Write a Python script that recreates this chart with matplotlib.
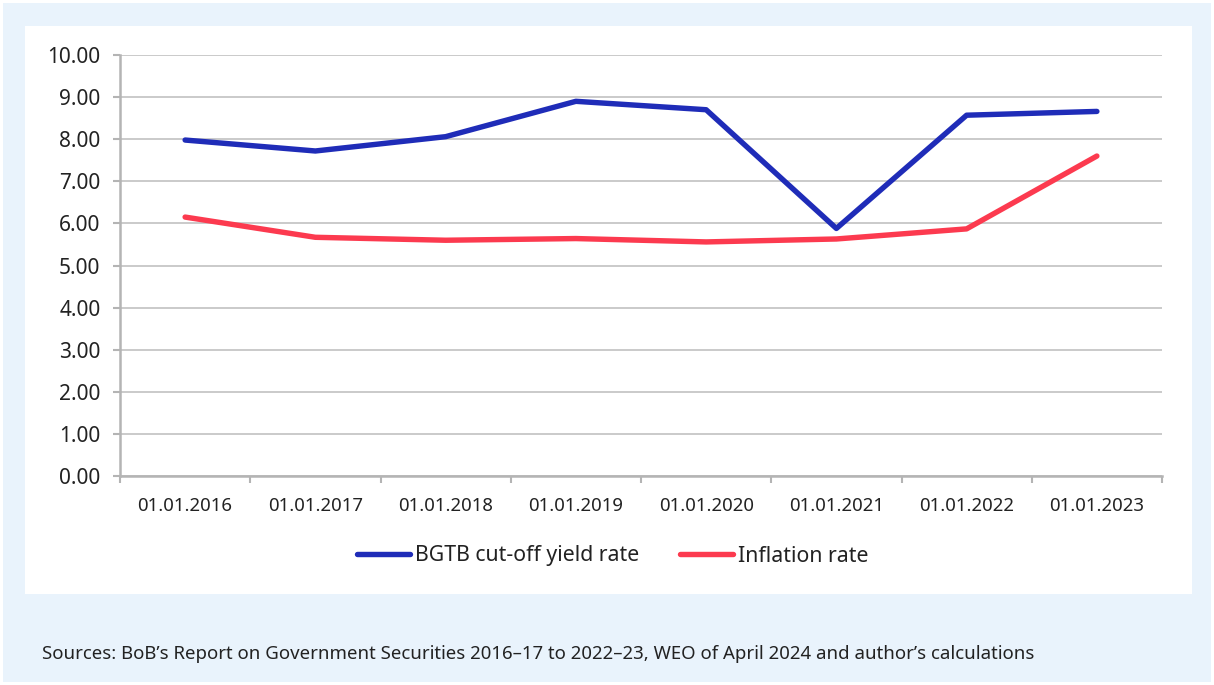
import matplotlib
matplotlib.use("Agg")
import matplotlib.pyplot as plt
from matplotlib.patches import Rectangle
import numpy as np

dates = ["01.01.2016", "01.01.2017", "01.01.2018", "01.01.2019",
         "01.01.2020", "01.01.2021", "01.01.2022", "01.01.2023"]
bgtb = [7.98, 7.72, 8.06, 8.90, 8.70, 5.88, 8.57, 8.66]
inflation = [6.15, 5.67, 5.60, 5.64, 5.56, 5.63, 5.87, 7.60]
yticks = [0, 1, 2, 3, 4, 5, 6, 7, 8, 9, 10]
source = ("Sources: BoB\u2019s Report on Government Securities 2016\u201317 to 2022\u201323, "
          "WEO of April 2024 and author\u2019s calculations")

plt.rcParams['font.family'] = ['Noto Sans', 'DejaVu Sans']

W, H = 1214, 685
fig = plt.figure(figsize=(W / 100, H / 100), dpi=100)
fig.patch.set_facecolor("white")

# outer light-blue box and white inner panel
fig.patches.append(Rectangle((3 / W, 3 / H), (W - 6) / W, (H - 6) / H,
                             transform=fig.transFigure, facecolor="#e9f3fc",
                             edgecolor="none", zorder=0))
fig.patches.append(Rectangle((25 / W, (H - 594) / H), (1192 - 25) / W, (594 - 26) / H,
                             transform=fig.transFigure, facecolor="white",
                             edgecolor="none", zorder=1))

ax = fig.add_axes([120 / W, (H - 476) / H, (1162 - 120) / W, (476 - 55) / H])
ax.set_facecolor("none")
ax.set_zorder(2)

x = np.arange(len(dates))
ax.plot(x, bgtb, color="#1f2cb8", lw=3.9, solid_capstyle="round",
        solid_joinstyle="round", label="BGTB cut-off yield rate", zorder=3)
ax.plot(x, inflation, color="#fc3a4f", lw=3.9, solid_capstyle="round",
        solid_joinstyle="round", label="Inflation rate", zorder=3)

ax.set_xlim(-0.5, len(dates) - 0.5)
ax.set_ylim(0, 10)
ax.set_yticks(yticks)
ax.set_yticklabels([f"{v:.2f}" for v in yticks])
ax.set_xticks(x)
ax.set_xticklabels(dates)
ax.set_xticks(np.arange(len(dates) + 1) - 0.5, minor=True)

gridc = "#c6c6c6"
ax.yaxis.grid(True, color=gridc, lw=1.3)
ax.set_axisbelow(True)
for s in ["top", "right"]:
    ax.spines[s].set_visible(False)
for s in ["left", "bottom"]:
    ax.spines[s].set_color("#b4b4b4")
    ax.spines[s].set_linewidth(1.8)

ax.tick_params(axis="y", length=5, width=1.5, color="#b4b4b4", pad=9,
               labelsize=15, labelcolor="#222222")
ax.tick_params(axis="x", which="major", length=0, pad=15,
               labelsize=13.4, labelcolor="#222222")
ax.tick_params(axis="x", which="minor", length=5, width=1.5, color="#b4b4b4")

fig.legend(loc="center", bbox_to_anchor=(613 / W, 1 - 556 / H), ncol=2,
           frameon=False, fontsize=15.3, handlelength=2.5, handletextpad=0.25,
           columnspacing=1.9, labelcolor="#222222")

fig.text(42 / W, 1 - 654 / H, source, fontsize=13.4, color="#222222",
         va="center", ha="left", zorder=3)

fig.savefig("out.png", dpi=100)
